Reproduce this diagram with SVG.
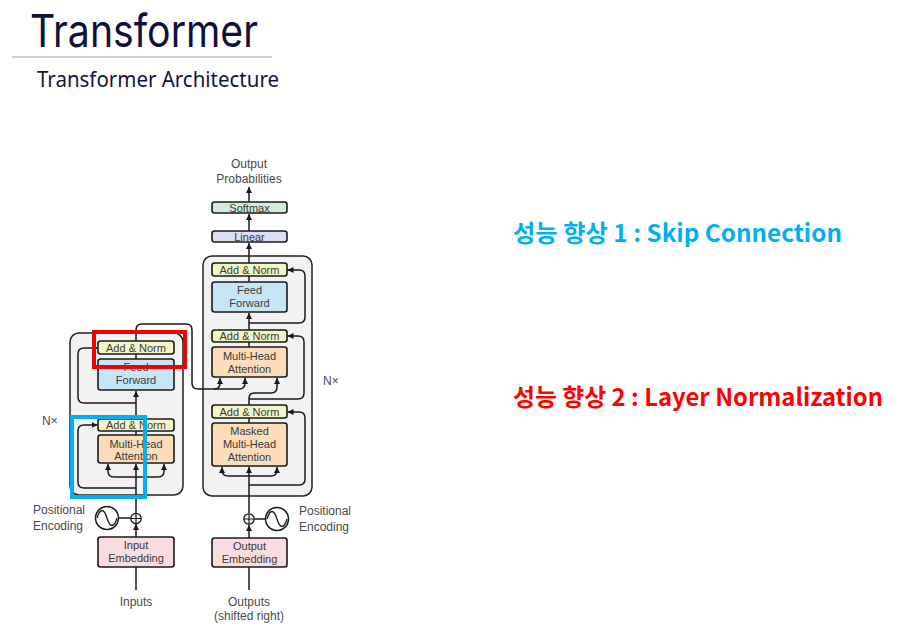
<svg xmlns="http://www.w3.org/2000/svg" width="922" height="627" viewBox="0 0 922 627">
<defs>
<marker id="ah" markerUnits="userSpaceOnUse" markerWidth="7" markerHeight="6" refX="6" refY="3" orient="auto">
<path d="M0,0 L6,3 L0,6 z" fill="#1a1a1a"/>
</marker>
<style>
.bx{stroke:#1a1a1a;stroke-width:1.6}
.an{fill:#F2F5C6}
.ff{fill:#C6E6F5}
.mh{fill:#FCDDBA}
.em{fill:#F9DCDF}
.sm{fill:#D3ECD9}
.ln{fill:#DCDEF2}
.t{font-family:"Liberation Sans",Arial,sans-serif;font-size:11px;fill:#3a3a3a;text-anchor:middle}
.lb{font-family:"Liberation Sans",Arial,sans-serif;font-size:12px;fill:#4a4a4a}
.c{fill:none;stroke:#1a1a1a;stroke-width:1.5}
.a{marker-end:url(#ah)}
.ko{font-family:"Noto Sans CJK KR","Noto Sans",sans-serif;font-weight:bold;font-size:24px}
</style>
</defs>

<g id="title">
<text x="30" y="47" font-family="Inter, Noto Sans, sans-serif" font-size="45" fill="#10103A" textLength="228" lengthAdjust="spacingAndGlyphs">Transformer</text>
<line x1="12" y1="57" x2="272" y2="57" stroke="#BFBFBF" stroke-width="1.5"/>
<text x="37" y="87" font-family="Noto Sans, sans-serif" font-size="22" fill="#14143C" textLength="242" lengthAdjust="spacingAndGlyphs">Transformer Architecture</text>
</g>

<g id="encoder-stack">
<rect x="70" y="333" width="113" height="162" rx="9" fill="#F2F2F2" stroke="#222" stroke-width="1.5"/>
</g>
<g id="decoder-stack">
<rect x="203" y="256" width="109" height="240" rx="9" fill="#F2F2F2" stroke="#222" stroke-width="1.5"/>
</g>

<g id="connectors">
<path class="c a" d="M136,590 V538"/>
<path class="c a" d="M136,537 V524"/>
<path class="c" d="M118,518 H130.5"/>
<path class="c a" d="M136,513 V464"/>
<path class="c a" d="M136,477 H114 Q108,477 108,471 V464"/>
<path class="c a" d="M136,477 H158 Q164,477 164,471 V464"/>
<path class="c a" d="M136,488 H84 Q78,488 78,482 V431 Q78,425 84,425 H97.5"/>
<path class="c" d="M136,435 V431"/>
<path class="c a" d="M136,419 V391"/>
<path class="c a" d="M136,403 H84 Q78,403 78,397 V354 Q78,348 84,348 H97.5"/>
<path class="c" d="M136,359 V354"/>
<path class="c a" d="M136,341 V330 Q136,324 142,324 H186 Q192,324 192,330 V383 Q192,389 198,389 H239 Q245,389 245,383 V378"/>
<path class="c a" d="M214,389 Q220,389 220,383 V378"/>
<path class="c a" d="M249,590 V539"/>
<path class="c a" d="M249,538 V525"/>
<path class="c" d="M254.5,519 H265.5"/>
<path class="c a" d="M249,513 V467"/>
<path class="c a" d="M249,476 H228 Q222,476 222,470 V467"/>
<path class="c a" d="M249,476 H271 Q277,476 277,470 V467"/>
<path class="c a" d="M249,485 H299 Q305,485 305,479 V418 Q305,412 299,412 H287.5"/>
<path class="c" d="M249,423 V418"/>
<path class="c a" d="M249,405 V398 Q249,393 255,393 H271 Q277,393 277,387 V378"/>
<path class="c a" d="M249,399 H298 Q304,399 304,393 V342 Q304,336 298,336 H287.5"/>
<path class="c" d="M249,347 V342"/>
<path class="c a" d="M249,330 V313"/>
<path class="c a" d="M249,323 H299 Q305,323 305,317 V276 Q305,270 299,270 H287.5"/>
<path class="c" d="M249,282 V276"/>
<path class="c a" d="M249,263 V243"/>
<path class="c a" d="M249,231 V214"/>
<path class="c a" d="M249,202 V187"/>
</g>

<g id="enc-add-norm-2">
<rect class="bx an" x="98" y="341" width="76" height="13" rx="2.5"/>
<text class="t" x="136" y="351.5">Add &amp; Norm</text>
</g>
<g id="enc-feed-forward">
<rect class="bx ff" x="98" y="359" width="76" height="31" rx="2.5"/>
<text class="t" x="136" y="370.5">Feed</text>
<text class="t" x="136" y="384">Forward</text>
</g>
<g id="enc-add-norm-1">
<rect class="bx an" x="98" y="419" width="76" height="12" rx="2.5"/>
<text class="t" x="136" y="429">Add &amp; Norm</text>
</g>
<g id="enc-mha">
<rect class="bx mh" x="98" y="435" width="76" height="28" rx="2.5"/>
<text class="t" x="136" y="447.5">Multi-Head</text>
<text class="t" x="136" y="460">Attention</text>
</g>
<g id="enc-nx"><text class="lb" x="42" y="425">N×</text></g>

<g id="enc-posenc">
<circle cx="107" cy="518" r="11.5" fill="#fff" stroke="#1a1a1a" stroke-width="1.5"/>
<path d="M97,518 C100,508 104,508 107,518 C110,528 114,528 117,518" fill="none" stroke="#1a1a1a" stroke-width="1.3"/>
<circle cx="136" cy="518.5" r="5.2" fill="#fff" stroke="#1a1a1a" stroke-width="1.3"/>
<path d="M130.8,518.5 H141.2 M136,513.3 V523.7" stroke="#1a1a1a" stroke-width="1.2"/>
<text class="lb" x="33" y="514">Positional</text>
<text class="lb" x="33" y="530">Encoding</text>
</g>
<g id="input-embedding">
<rect class="bx em" x="98" y="537" width="76" height="30" rx="2.5"/>
<text class="t" x="136" y="548.5">Input</text>
<text class="t" x="136" y="562">Embedding</text>
</g>
<g id="inputs"><text class="lb" x="136" y="606" text-anchor="middle">Inputs</text></g>

<g id="dec-add-norm-3">
<rect class="bx an" x="212" y="263" width="75" height="13" rx="2.5"/>
<text class="t" x="249.5" y="273.5">Add &amp; Norm</text>
</g>
<g id="dec-feed-forward">
<rect class="bx ff" x="212" y="282" width="75" height="30" rx="2.5"/>
<text class="t" x="249.5" y="294">Feed</text>
<text class="t" x="249.5" y="307">Forward</text>
</g>
<g id="dec-add-norm-2">
<rect class="bx an" x="212" y="330" width="75" height="12" rx="2.5"/>
<text class="t" x="249.5" y="340">Add &amp; Norm</text>
</g>
<g id="dec-mha">
<rect class="bx mh" x="212" y="347" width="75" height="30" rx="2.5"/>
<text class="t" x="249.5" y="359.5">Multi-Head</text>
<text class="t" x="249.5" y="373">Attention</text>
</g>
<g id="dec-add-norm-1">
<rect class="bx an" x="212" y="405" width="75" height="13" rx="2.5"/>
<text class="t" x="249.5" y="415.5">Add &amp; Norm</text>
</g>
<g id="dec-masked-mha">
<rect class="bx mh" x="212" y="423" width="75" height="43" rx="2.5"/>
<text class="t" x="249.5" y="435">Masked</text>
<text class="t" x="249.5" y="448">Multi-Head</text>
<text class="t" x="249.5" y="461">Attention</text>
</g>
<g id="dec-nx"><text class="lb" x="323" y="385">N×</text></g>

<g id="dec-posenc">
<circle cx="249" cy="519" r="5.2" fill="#fff" stroke="#1a1a1a" stroke-width="1.3"/>
<path d="M243.8,519 H254.2 M249,513.8 V524.2" stroke="#1a1a1a" stroke-width="1.2"/>
<circle cx="277" cy="519" r="11.5" fill="#fff" stroke="#1a1a1a" stroke-width="1.5"/>
<path d="M267,519 C270,509 274,509 277,519 C280,529 284,529 287,519" fill="none" stroke="#1a1a1a" stroke-width="1.3"/>
<text class="lb" x="299" y="515">Positional</text>
<text class="lb" x="299" y="531">Encoding</text>
</g>
<g id="output-embedding">
<rect class="bx em" x="212" y="538" width="75" height="29" rx="2.5"/>
<text class="t" x="249.5" y="549.5">Output</text>
<text class="t" x="249.5" y="562.5">Embedding</text>
</g>
<g id="outputs">
<text class="lb" x="249" y="606" text-anchor="middle">Outputs</text>
<text class="lb" x="249" y="620" text-anchor="middle">(shifted right)</text>
</g>

<g id="linear">
<rect class="bx ln" x="212" y="231" width="75" height="11" rx="2.5"/>
<text class="t" x="249.5" y="240.5">Linear</text>
</g>
<g id="softmax">
<rect class="bx sm" x="212" y="202" width="75" height="11" rx="2.5"/>
<text class="t" x="249.5" y="211.5">Softmax</text>
</g>
<g id="output-probabilities">
<text class="lb" x="249" y="168" text-anchor="middle">Output</text>
<text class="lb" x="249" y="183" text-anchor="middle">Probabilities</text>
</g>

<g id="highlight-skip">
<rect x="72" y="417" width="73" height="80" fill="none" stroke="#00B0F0" stroke-width="4"/>
</g>
<g id="highlight-norm">
<rect x="94" y="332" width="91" height="35" fill="none" stroke="#F00000" stroke-width="4"/>
</g>

<g id="note-1">
<text class="ko" x="513" y="242" fill="#00B0F0" textLength="329" lengthAdjust="spacingAndGlyphs">성능 향상 1 : Skip Connection</text>
</g>
<g id="note-2">
<text class="ko" x="513" y="406" fill="#FF0000" textLength="370" lengthAdjust="spacingAndGlyphs">성능 향상 2 : Layer Normalization</text>
</g>
</svg>
